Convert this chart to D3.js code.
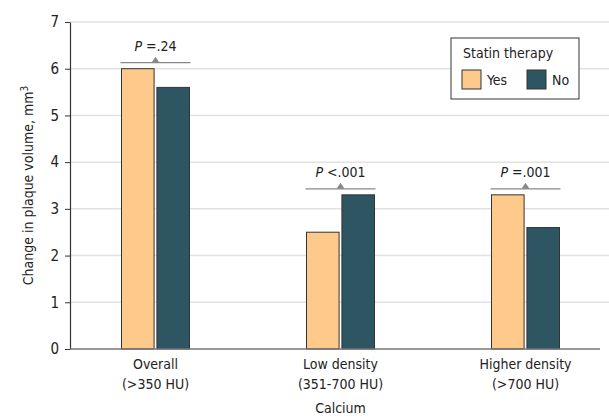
<!DOCTYPE html>
<html>
<head>
<meta charset="utf-8">
<script src="https://cdn.jsdelivr.net/npm/d3@7"></script>
<style>
  body { margin: 0; background: #fff; }
  text { font-family: "Liberation Sans Narrow", "DejaVu Sans Condensed", "Open Sans", sans-serif; fill: #222; }
</style>
</head>
<body>
<div class="chart"></div>
<script>
// data
const groups = ["Overall", "Low density", "Higher density"];
const groupSub = ["(>350 HU)", "(351-700 HU)", "(>700 HU)"];
const series = ["Yes", "No"];
const yesValues = [6.0, 2.5, 3.3];
const noValues = [5.6, 3.3, 2.6];
const pLabels = ["=.24", "<.001", "=.001"];
const yTicks = [0, 1, 2, 3, 4, 5, 6, 7];

const width = 609, height = 417;
const margin = { top: 22, right: 0, bottom: 68, left: 70 };

const svg = d3.select(".chart").append("svg")
  .attr("width", width)
  .attr("height", height);

const color = d3.scaleOrdinal().domain(series).range(["#fdca8b", "#2d5562"]);

//scales
const x0 = d3.scaleBand().domain(groups).range([63, 618]);
const x1 = d3.scaleBand().domain(series).range([0, 68]).paddingInner(0.08);
const y = d3.scaleLinear().domain([0, 7]).range([349, 22]);

//grid
svg.append("g")
  .selectAll("line")
  .data(yTicks.filter(d => d > 0))
  .enter()
  .append("line")
  .attr("x1", margin.left)
  .attr("x2", width)
  .attr("y1", d => y(d))
  .attr("y2", d => y(d))
  .attr("stroke", "#e2e2e2")
  .attr("stroke-width", 1.5);

//y axis
const yAxis = d3.axisLeft(y)
  .tickValues(yTicks)
  .tickFormat(d3.format("d"))
  .tickSizeInner(5)
  .tickSizeOuter(0)
  .tickPadding(6);
const gy = svg.append("g")
  .attr("transform", "translate(" + margin.left + ",0)")
  .call(yAxis);
gy.select(".domain").attr("stroke", "#333").attr("stroke-width", 1.2);
gy.selectAll(".tick line").attr("stroke", "#333");
gy.selectAll(".tick text").style("font-size", "15px").attr("fill", "#222");

//bars
const bars = [];
groups.forEach((g, i) => {
  bars.push({ group: g, key: "Yes", value: yesValues[i] });
  bars.push({ group: g, key: "No", value: noValues[i] });
});

const barW = x1.bandwidth();
svg.append("g")
  .selectAll("rect")
  .data(bars)
  .enter()
  .append("rect")
  .attr("x", d => x0(d.group) + x0.bandwidth() / 2 - 34 + x1(d.key))
  .attr("y", d => y(d.value))
  .attr("width", barW)
  .attr("height", d => y(0) - y(d.value))
  .attr("fill", d => color(d.key))
  .attr("stroke", "#333")
  .attr("stroke-width", 1);

//x axis line
svg.append("line")
  .attr("x1", margin.left)
  .attr("x2", 600)
  .attr("y1", y(0))
  .attr("y2", y(0))
  .attr("stroke", "#777")
  .attr("stroke-width", 1.5);

//p value brackets
groups.forEach((g, i) => {
  const cx = x0(g) + x0.bandwidth() / 2;
  const top = y(Math.max(yesValues[i], noValues[i])) - 6;
  svg.append("line")
    .attr("x1", cx - 35).attr("x2", cx + 35)
    .attr("y1", top).attr("y2", top)
    .attr("stroke", "#888").attr("stroke-width", 1.3);
  svg.append("path")
    .attr("d", `M${cx - 4},${top} L${cx},${top - 6} L${cx + 4},${top} Z`)
    .attr("fill", "#888");
  const t = svg.append("text")
    .attr("x", cx)
    .attr("y", top - 12)
    .attr("text-anchor", "middle")
    .style("font-size", "14px");
  t.append("tspan").style("font-style", "italic").text("P");
  t.append("tspan").text(" " + pLabels[i]);
});

//x labels
groups.forEach((g, i) => {
  const cx = x0(g) + x0.bandwidth() / 2;
  svg.append("text").attr("x", cx).attr("y", 369)
    .attr("text-anchor", "middle").style("font-size", "14px").text(g);
  svg.append("text").attr("x", cx).attr("y", 389)
    .attr("text-anchor", "middle").style("font-size", "14px").text(groupSub[i]);
});

svg.append("text")
  .attr("x", x0("Low density") + x0.bandwidth() / 2)
  .attr("y", 413)
  .attr("text-anchor", "middle")
  .style("font-size", "14px")
  .text("Calcium");

//y label
const yl = svg.append("text")
  .attr("transform", "translate(33," + (y(0) + y(7)) / 2 + ") rotate(-90)")
  .attr("text-anchor", "middle")
  .style("font-size", "14px");
yl.append("tspan").text("Change in plaque volume, mm");
yl.append("tspan").attr("dy", -5).style("font-size", "10px").text("3");

//legend
const lg = svg.append("g").attr("transform", "translate(451,38)");
lg.append("rect")
  .attr("width", 128).attr("height", 61)
  .attr("fill", "#fff").attr("stroke", "#333").attr("stroke-width", 1);
lg.append("text").attr("x", 12).attr("y", 20).style("font-size", "14px").text("Statin therapy");
series.forEach((s, i) => {
  const lx = 11 + i * 65;
  lg.append("rect")
    .attr("x", lx).attr("y", 32)
    .attr("width", 19).attr("height", 19)
    .attr("fill", color(s)).attr("stroke", "#333");
  lg.append("text").attr("x", lx + 25).attr("y", 47).style("font-size", "14px").text(s);
});
</script>
</body>
</html>
